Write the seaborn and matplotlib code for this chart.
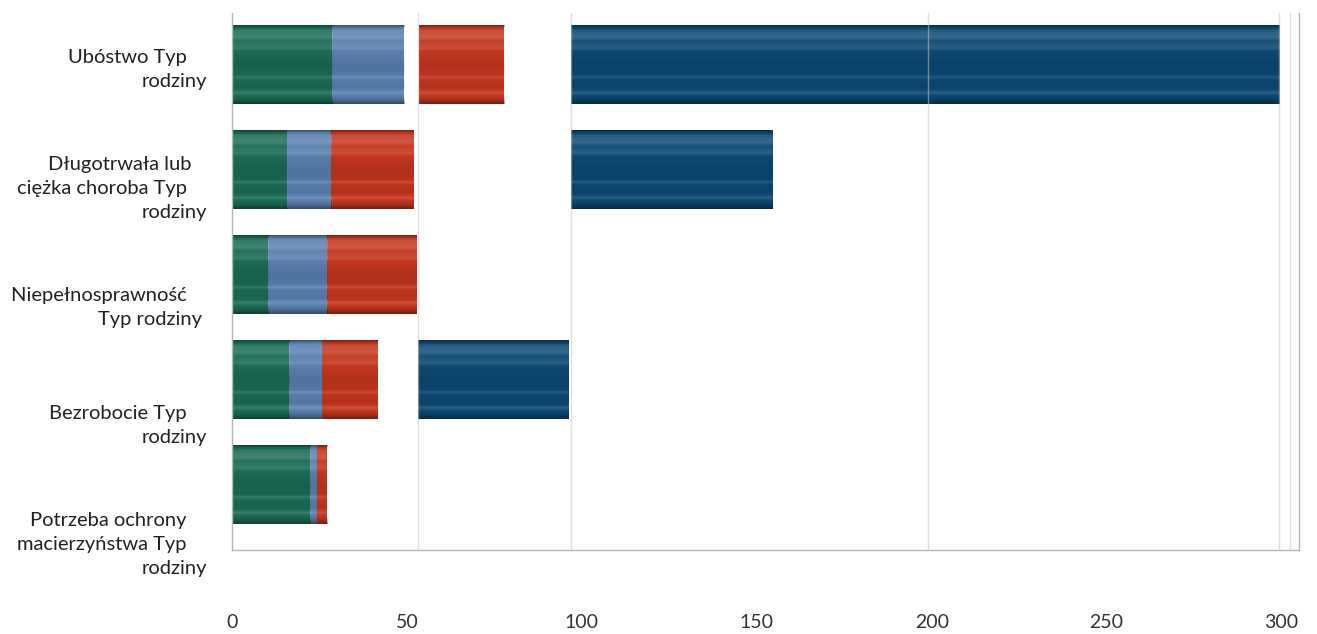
import numpy as np
import pandas as pd
import matplotlib
matplotlib.use("Agg")
import matplotlib.pyplot as plt
import seaborn as sns

# Values (x units)
categories = ["Ubóstwo", "Długotrwała lub ciężka choroba", "Niepełnosprawność",
              "Bezrobocie", "Potrzeba ochrony macierzyństwa"]
tick_labels = ["Ubóstwo Typ    \nrodziny",
               "Długotrwała lub   \nciężka choroba Typ    \nrodziny",
               "Niepełnosprawność    \nTyp rodziny ",
               "Bezrobocie Typ    \nrodziny",
               "Potrzeba ochrony    \nmacierzyństwa Typ    \nrodziny"]
green = [28.6, 15.6, 10.3, 16.3, 22.3]
blue = [20.6, 12.7, 16.9, 9.4, 2.0]
gap_red = [4.3, 0, 0, 0, 0]
red = [24.3, 23.7, 25.7, 16.0, 2.9]
gap_navy = [19.2, 44.9, 0, 11.4, 0]
navy = [202.6, 57.7, 0, 43.1, 0]
x_ticks = [0, 50, 100, 150, 200, 250, 300]
grid_at = [53.1, 96.9, 198.9, 299.4, 302.3]

sns.set_style("white")
plt.rcParams["font.family"] = ["Lato", "DejaVu Sans"]

df = pd.DataFrame({"cat": categories, "green": green, "blue": blue, "gap_red": gap_red,
                   "red": red, "gap_navy": gap_navy, "navy": navy})

series = [("green", "#1b6b55"), ("blue", "#5a7fae"), ("gap_red", None),
          ("red", "#c3361f"), ("gap_navy", None), ("navy", "#0c4872")]

fig, ax = plt.subplots(figsize=(13.17, 6.34), dpi=100)
fig.subplots_adjust(left=0.1762, right=0.9863, top=0.979, bottom=0.1325)

left = np.zeros(len(df))
for col, color in series:
    if color is not None:
        sns.barplot(data=df, x=col, y="cat", left=left, color=color, width=0.75,
                    orient="h", saturation=1, ax=ax, zorder=2,
                    edgecolor="none", linewidth=0)
    left = left + df[col].to_numpy()

# soft horizontal streaks like the original 3D bars
profile_pos = [0.0, 0.03, 0.06, 0.15, 0.2, 0.29, 0.33, 0.5, 0.63, 0.66, 0.7, 0.8, 0.86, 0.9, 0.95, 1.0]
profile_val = [-0.35, -0.05, 0.1, 0.18, 0.04, 0.13, 0.0, -0.1, -0.06, 0.12, -0.04, -0.08, 0.13, 0.0, -0.15, -0.4]
rows = np.interp(np.linspace(0, 1, 80), profile_pos, profile_val)
img = np.zeros((80, 1, 4))
img[:, 0, :3] = np.where(rows[:, None] > 0, 1.0, 0.0)
img[:, 0, 3] = np.abs(rows)
for p in list(ax.patches):
    w = p.get_width()
    if w <= 0:
        continue
    x0, y0, h = p.get_x(), p.get_y(), p.get_height()
    ax.imshow(img, extent=(x0, x0 + w, y0 + h, y0), aspect="auto", zorder=2.5,
              interpolation="bilinear")

for g in grid_at:
    ax.axvline(g, color="#c4c4c4", lw=1, zorder=3, alpha=0.55)

ax.set_xlim(0, 305)
ax.set_ylim(4.62, -0.49)
ax.set_xticks(x_ticks)
ax.set_xticklabels([str(t) for t in x_ticks], fontsize=14, color="#333333")
ax.set_yticks(np.arange(len(categories)) * 1.13)
ax.set_yticklabels(tick_labels, fontsize=14.5, color="#222222", linespacing=1.5)
ax.tick_params(axis="x", length=0, pad=46)
ax.tick_params(axis="y", length=0, pad=18)
ax.set_xlabel("")
ax.set_ylabel("")

ax.spines["top"].set_visible(False)
for s in ["left", "bottom", "right"]:
    ax.spines[s].set_color("#b5b5b5")
    ax.spines[s].set_linewidth(1)

fig.savefig("out.png", dpi=100)
